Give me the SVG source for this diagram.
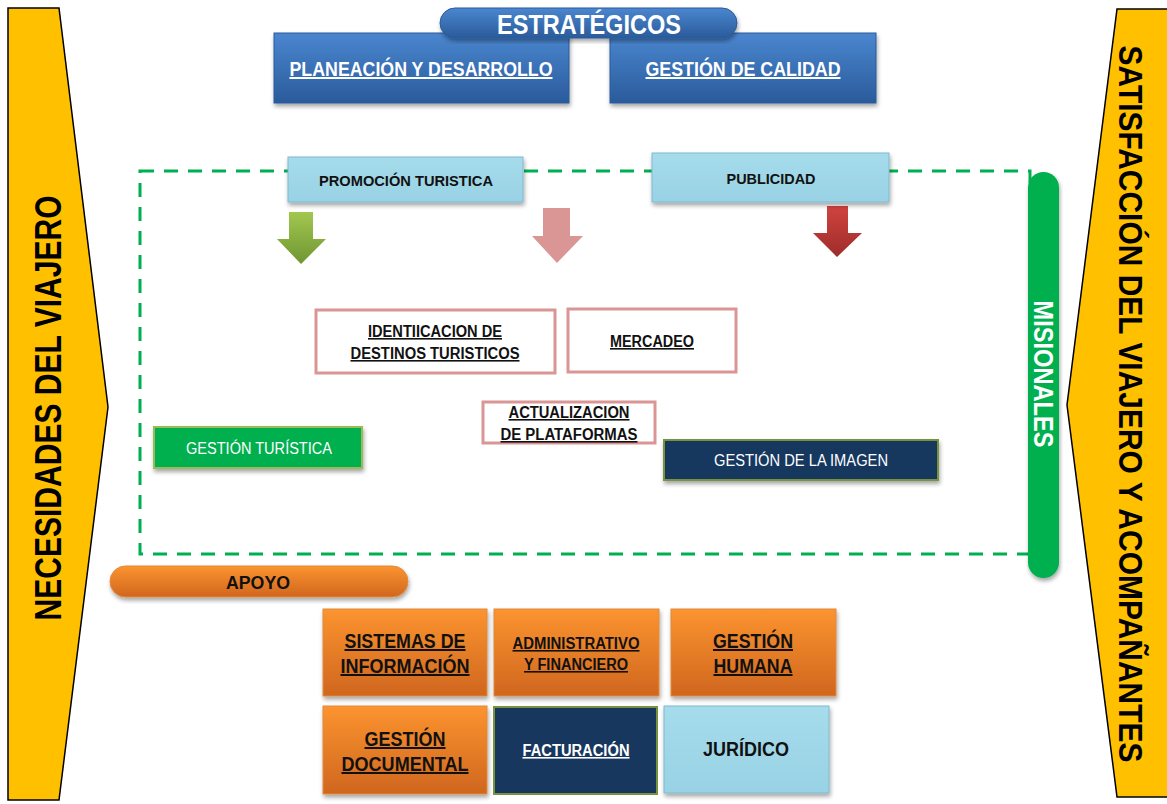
<svg xmlns="http://www.w3.org/2000/svg" width="1167" height="804" viewBox="0 0 1167 804">
<defs>
<style>
.t{font-family:"Liberation Sans",Arial,sans-serif;font-weight:bold;text-anchor:middle}
.n{font-family:"Liberation Sans",Arial,sans-serif;font-weight:normal;text-anchor:middle}
.u{text-decoration:underline}
.side{fill:#FFC000;stroke:#000;stroke-width:1.5}
.pink{fill:#fff;stroke:#D99694;stroke-width:3}
</style>
<linearGradient id="gBlue" x1="0" y1="0" x2="0" y2="1"><stop offset="0" stop-color="#4A86CF"/><stop offset="1" stop-color="#2A5B9B"/></linearGradient>
<linearGradient id="gOr" x1="0" y1="0" x2="0" y2="1"><stop offset="0" stop-color="#FB9430"/><stop offset="1" stop-color="#D0661E"/></linearGradient>
<linearGradient id="gLb" x1="0" y1="0" x2="0" y2="1"><stop offset="0" stop-color="#A6DCEC"/><stop offset="1" stop-color="#98D2E4"/></linearGradient>
<linearGradient id="gGreenA" x1="0" y1="0" x2="0" y2="1"><stop offset="0" stop-color="#A2C750"/><stop offset="1" stop-color="#6F9632"/></linearGradient>
<linearGradient id="gRedA" x1="0" y1="0" x2="0" y2="1"><stop offset="0" stop-color="#D0433F"/><stop offset="1" stop-color="#9E2D2A"/></linearGradient>
<filter id="sh" x="-10%" y="-10%" width="120%" height="130%"><feDropShadow dx="1" dy="3" stdDeviation="2" flood-color="#000" flood-opacity="0.35"/></filter>
</defs>

<g id="necesidades">
<polygon class="side" points="8,8 59,8 108,407 59,800 8,800"/>
<text class="t" font-size="36" transform="translate(61,408) rotate(-90)" textLength="425" lengthAdjust="spacingAndGlyphs">NECESIDADES  DEL VIAJERO</text>
</g>

<g id="satisfaccion">
<polygon class="side" points="1117,9 1170,9 1170,797 1117,797 1067,405"/>
<text class="t" font-size="34" transform="translate(1119,404) rotate(90)" textLength="717" lengthAdjust="spacingAndGlyphs">SATISFACCIÓN  DEL VIAJERO Y ACOMPAÑANTES</text>
</g>

<g id="connectors">
<rect x="140" y="171" width="890" height="383" fill="none" stroke="#00B050" stroke-width="3" stroke-dasharray="14,10"/>
<polygon fill="url(#gGreenA)" points="289,212 313,212 313,239 326,239 301,264 277,239 289,239"/>
<polygon fill="#D99694" points="543,208 570,208 570,236 583,236 557,263 532,236 543,236"/>
<polygon fill="url(#gRedA)" points="827,206 848,206 848,233 862,233 837,257 813,233 827,233"/>
</g>

<g id="planeacion">
<rect x="274" y="33" width="295" height="70" fill="url(#gBlue)" stroke="#2A5B9B" filter="url(#sh)"/>
<text class="t u" x="421" y="76" font-size="20" fill="#fff" textLength="263" lengthAdjust="spacingAndGlyphs">PLANEACIÓN Y DESARROLLO</text>
</g>
<g id="calidad">
<rect x="610" y="33" width="266" height="70" fill="url(#gBlue)" stroke="#2A5B9B" filter="url(#sh)"/>
<text class="t u" x="743" y="76" font-size="20" fill="#fff" textLength="195" lengthAdjust="spacingAndGlyphs">GESTIÓN DE CALIDAD</text>
</g>
<g id="estrategicos">
<rect x="440" y="8" width="297" height="30" rx="15" fill="url(#gBlue)" stroke="#2A5B9B" filter="url(#sh)"/>
<text class="t" x="589" y="34" font-size="27" fill="#fff" textLength="184" lengthAdjust="spacingAndGlyphs">ESTRATÉGICOS</text>
</g>

<g id="promocion">
<rect x="288" y="157" width="235" height="45" fill="url(#gLb)" stroke="#7FBACD" filter="url(#sh)"/>
<text class="t" x="406" y="186" font-size="15" fill="#111" textLength="174" lengthAdjust="spacingAndGlyphs">PROMOCIÓN TURISTICA</text>
</g>
<g id="publicidad">
<rect x="652" y="153" width="237" height="49" fill="url(#gLb)" stroke="#7FBACD" filter="url(#sh)"/>
<text class="t" x="771" y="184" font-size="15" fill="#111" textLength="89" lengthAdjust="spacingAndGlyphs">PUBLICIDAD</text>
</g>

<g id="misionales">
<rect x="1028" y="172" width="31" height="406" rx="15.5" fill="#00B050" filter="url(#sh)"/>
<text class="t" font-size="27" fill="#fff" transform="translate(1034,374) rotate(90)" textLength="147" lengthAdjust="spacingAndGlyphs">MISIONALES</text>
</g>

<g id="identificacion">
<rect class="pink" x="316" y="310" width="239" height="63"/>
<text class="t u" x="435" y="337" font-size="16" fill="#111" textLength="134" lengthAdjust="spacingAndGlyphs">IDENTIICACION DE</text>
<text class="t u" x="435" y="359" font-size="16" fill="#111" textLength="169" lengthAdjust="spacingAndGlyphs">DESTINOS TURISTICOS</text>
</g>
<g id="mercadeo">
<rect class="pink" x="568" y="309" width="168" height="63"/>
<text class="t u" x="652" y="347" font-size="16" fill="#111" textLength="84" lengthAdjust="spacingAndGlyphs">MERCADEO</text>
</g>
<g id="actualizacion">
<rect class="pink" x="483" y="402" width="172" height="41"/>
<text class="t u" x="569" y="418" font-size="16" fill="#111" textLength="121" lengthAdjust="spacingAndGlyphs">ACTUALIZACION</text>
<text class="t u" x="569" y="440" font-size="16" fill="#111" textLength="137" lengthAdjust="spacingAndGlyphs">DE PLATAFORMAS</text>
</g>
<g id="gestion-turistica">
<rect x="154" y="427" width="208" height="41" fill="#00B050" stroke="#9BBB59" stroke-width="2" filter="url(#sh)"/>
<text class="n" x="259" y="454" font-size="16" fill="#fff" textLength="146" lengthAdjust="spacingAndGlyphs">GESTIÓN  TURÍSTICA</text>
</g>
<g id="gestion-imagen">
<rect x="664" y="440" width="274" height="40" fill="#17375E" stroke="#77933C" stroke-width="2" filter="url(#sh)"/>
<text class="n" x="801" y="466" font-size="16" fill="#fff" textLength="174" lengthAdjust="spacingAndGlyphs">GESTIÓN  DE LA IMAGEN</text>
</g>

<g id="apoyo">
<rect x="110" y="566" width="298" height="31" rx="15.5" fill="url(#gOr)" stroke="#E08A3C" filter="url(#sh)"/>
<text class="t" x="258" y="589" font-size="19" fill="#111" textLength="64" lengthAdjust="spacingAndGlyphs">APOYO</text>
</g>

<g id="sistemas">
<rect x="323" y="609" width="164" height="87" fill="url(#gOr)" stroke="#E08A3C" filter="url(#sh)"/>
<text class="t u" x="405" y="648" font-size="20" fill="#111" textLength="121" lengthAdjust="spacingAndGlyphs">SISTEMAS DE</text>
<text class="t u" x="405" y="673" font-size="20" fill="#111" textLength="129" lengthAdjust="spacingAndGlyphs">INFORMACIÓN</text>
</g>
<g id="administrativo">
<rect x="494" y="609" width="165" height="87" fill="url(#gOr)" stroke="#E08A3C" filter="url(#sh)"/>
<text class="t u" x="576" y="649" font-size="16" fill="#111" textLength="127" lengthAdjust="spacingAndGlyphs">ADMINISTRATIVO</text>
<text class="t u" x="576" y="670" font-size="16" fill="#111" textLength="104" lengthAdjust="spacingAndGlyphs">Y FINANCIERO</text>
</g>
<g id="humana">
<rect x="671" y="609" width="165" height="87" fill="url(#gOr)" stroke="#E08A3C" filter="url(#sh)"/>
<text class="t u" x="753" y="648" font-size="20" fill="#111" textLength="80" lengthAdjust="spacingAndGlyphs">GESTIÓN</text>
<text class="t u" x="753" y="673" font-size="20" fill="#111" textLength="79" lengthAdjust="spacingAndGlyphs">HUMANA</text>
</g>
<g id="documental">
<rect x="323" y="706" width="164" height="88" fill="url(#gOr)" stroke="#E08A3C" filter="url(#sh)"/>
<text class="t u" x="405" y="746" font-size="20" fill="#111" textLength="81" lengthAdjust="spacingAndGlyphs">GESTIÓN</text>
<text class="t u" x="405" y="771" font-size="20" fill="#111" textLength="127" lengthAdjust="spacingAndGlyphs">DOCUMENTAL</text>
</g>
<g id="facturacion">
<rect x="494" y="707" width="163" height="87" fill="#17375E" stroke="#77933C" stroke-width="2"/>
<text class="t u" x="576" y="756" font-size="16" fill="#fff" textLength="107" lengthAdjust="spacingAndGlyphs">FACTURACIÓN</text>
</g>
<g id="juridico">
<rect x="664" y="706" width="165" height="87" fill="url(#gLb)" stroke="#7FBACD" filter="url(#sh)"/>
<text class="t" x="746" y="756" font-size="20" fill="#111" textLength="86" lengthAdjust="spacingAndGlyphs">JURÍDICO</text>
</g>
</svg>
